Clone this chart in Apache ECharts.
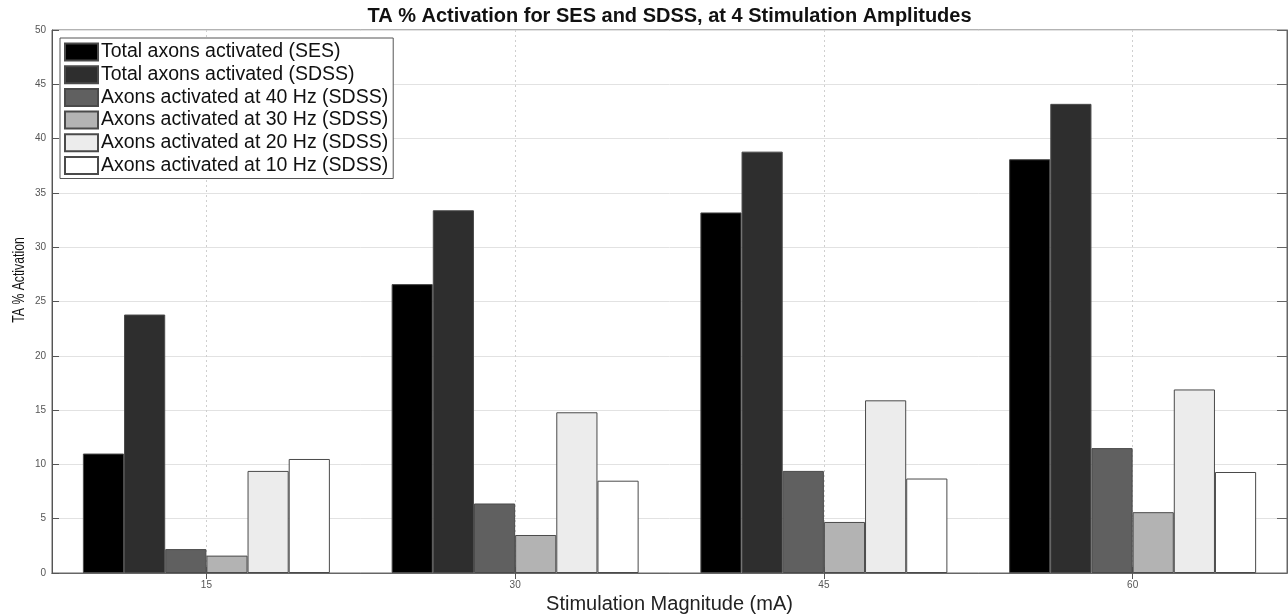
<!DOCTYPE html>
<html>
<head>
<meta charset="utf-8">
<script src="https://cdn.jsdelivr.net/npm/echarts@6/dist/echarts.min.js"></script>
<style>
  html, body { margin: 0; padding: 0; background: #fff; }
  #chart { width: 1288px; height: 614px; }
</style>
</head>
<body>
<div id="chart"></div>
<script>
// Stimulation amplitudes (mA) on the x axis
const categories = ['15', '30', '45', '60'];

// TA % activation per amplitude
const sesTotal  = [11.0, 26.6, 33.2, 38.1];
const sdssTotal = [23.8, 33.4, 38.8, 43.2];
const sdss40Hz  = [2.2, 6.4, 9.4, 11.5];
const sdss30Hz  = [1.6, 3.5, 4.7, 5.6];
const sdss20Hz  = [9.4, 14.8, 15.9, 16.9];
const sdss10Hz  = [10.5, 8.5, 8.7, 9.3];

const seriesNames = [
  'Total axons activated (SES)',
  'Total axons activated (SDSS)',
  'Axons activated at 40 Hz (SDSS)',
  'Axons activated at 30 Hz (SDSS)',
  'Axons activated at 20 Hz (SDSS)',
  'Axons activated at 10 Hz (SDSS)'
];
const seriesData = [sesTotal, sdssTotal, sdss40Hz, sdss30Hz, sdss20Hz, sdss10Hz];
const seriesColors = ['#000000', '#2e2e2e', '#606060', '#b3b3b3', '#ececec', '#ffffff'];

const FONT = "'Liberation Sans', Arial, sans-serif";

const chart = echarts.init(document.getElementById('chart'));

const plotLeft = 52, plotRight = 1, plotTop = 30, plotBottom = 41;
const plotCenterX = plotLeft + (1288 - plotLeft - plotRight) / 2;

const option = {
  backgroundColor: '#ffffff',
  animation: false,
  title: {
    text: 'TA % Activation for SES and SDSS, at 4 Stimulation Amplitudes',
    left: plotCenterX,
    textAlign: 'center',
    top: 6,
    padding: 0,
    textStyle: { fontFamily: FONT, fontSize: 20, fontWeight: 'bold', color: '#111' }
  },
  legend: {
    orient: 'vertical',
    left: 60,
    top: 38,
    padding: [4, 5, 3, 4],
    itemWidth: 33,
    itemHeight: 17,
    itemGap: 2.7,
    icon: 'rect',
    backgroundColor: '#ffffff',
    borderColor: '#555',
    borderWidth: 1,
    borderRadius: 0,
    data: seriesNames,
    textStyle: { fontFamily: FONT, fontSize: 19.5, color: '#111', lineHeight: 17, padding: [0, 0, 0, -2] }
  },
  grid: {
    left: plotLeft, right: plotRight, top: plotTop, bottom: plotBottom,
    outerBoundsMode: 'none',
    show: true, borderColor: '#666', borderWidth: 1, backgroundColor: 'transparent'
  },
  graphic: [{
    // y-axis title, drawn narrow along its length
    type: 'text',
    x: 19,
    y: 280,
    rotation: Math.PI / 2,
    scaleX: 0.72,
    scaleY: 1,
    style: {
      text: 'TA % Activation',
      x: 0, y: 0,
      align: 'center',
      verticalAlign: 'middle',
      font: "17px 'Liberation Sans', Arial, sans-serif",
      fill: '#111'
    }
  }],
  xAxis: [{
    type: 'category',
    data: categories,
    name: 'Stimulation Magnitude (mA)',
    nameLocation: 'middle',
    nameGap: 19,
    nameTextStyle: { fontFamily: FONT, fontSize: 20, color: '#222' },
    axisLine: { show: true, lineStyle: { color: '#555', width: 1 } },
    axisTick: { show: true, inside: true, alignWithLabel: true, length: 6, lineStyle: { color: '#555' } },
    axisLabel: { fontFamily: FONT, fontSize: 10, color: '#555', margin: 7 },
    splitLine: { show: true, alignWithLabel: true, lineStyle: { color: '#cfcfcf', type: [2, 3], width: 1 } }
  }, {
    type: 'category',
    data: categories,
    position: 'top',
    axisLine: { show: true, lineStyle: { color: '#666', width: 1 } },
    axisTick: { show: true, inside: true, alignWithLabel: true, length: 6, lineStyle: { color: '#555' } },
    axisLabel: { show: false },
    splitLine: { show: false }
  }],
  yAxis: [{
    type: 'value',
    min: 0, max: 50, interval: 5,
    axisLine: { show: true, lineStyle: { color: '#555', width: 1 } },
    axisTick: { show: true, inside: true, length: 7, lineStyle: { color: '#555' } },
    axisLabel: { fontFamily: FONT, fontSize: 10, color: '#555', margin: 6 },
    splitLine: { show: true, lineStyle: { color: '#e2e2e2', width: 1 } }
  }, {
    type: 'value',
    position: 'right',
    min: 0, max: 50, interval: 5,
    axisLine: { show: true, lineStyle: { color: '#666', width: 1 } },
    axisTick: { show: true, inside: true, length: 10, lineStyle: { color: '#666' } },
    axisLabel: { show: false },
    splitLine: { show: false }
  }],
  series: seriesNames.map((name, i) => ({
    name: name,
    type: 'bar',
    xAxisIndex: 0,
    yAxisIndex: 0,
    data: seriesData[i],
    barGap: '0%',
    barCategoryGap: '20%',
    itemStyle: { color: seriesColors[i], borderColor: '#4a4a4a', borderWidth: 1 },
    emphasis: { disabled: true }
  }))
};

chart.setOption(option);
</script>
</body>
</html>
